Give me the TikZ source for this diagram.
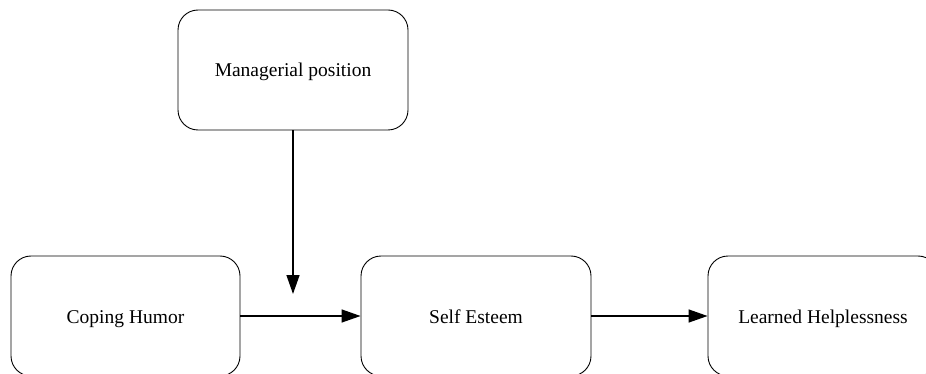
\documentclass[tikz,border=0pt]{standalone}
\usepackage{fontspec}
\setmainfont{Liberation Serif}
\usetikzlibrary{arrows.meta}
\begin{document}
\begin{tikzpicture}[x=1pt,y=-1pt,
  box/.style={draw=black, line width=0.9pt, rounded corners=20pt, minimum width=230pt, minimum height=120pt, inner sep=0pt, text height=14pt, text depth=0pt, font=\fontsize{19.5}{23}\selectfont},
  conn/.style={line width=1.4pt, -{Triangle[length=19pt,width=13pt]}}]
\useasboundingbox (0,0) rectangle (926,374);
\clip (0,0) rectangle (926,374);
\node[box] (mp) at (293,70) {Managerial position};
\node[box, minimum width=229pt] (ch) at (125.5,316) {Coping Humor};
\node[box] (se) at (476,316) {Self Esteem};
\node[box] (lh) at (823,316) {Learned Helplessness};
\coordinate (mod) at (293,294);
\draw[conn] (mp.south) -- (mod);
\draw[conn] (ch.east) -- (se.west);
\draw[conn] (se.east) -- (lh.west);
\end{tikzpicture}
\end{document}
